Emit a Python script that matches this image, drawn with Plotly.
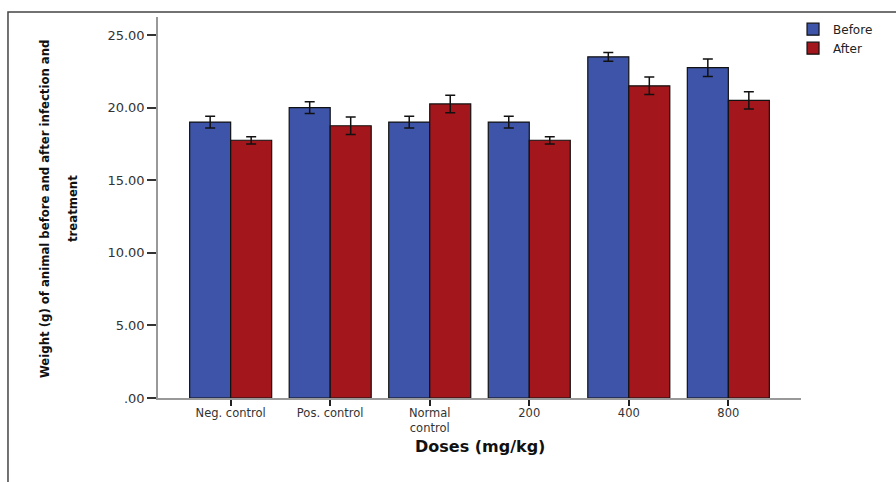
import plotly.graph_objects as go

categories = ["Neg. control", "Pos. control", "Normal<br>control", "200", "400", "800"]
before = [19.0, 20.0, 19.0, 19.0, 23.5, 22.75]
before_err = [0.4, 0.4, 0.4, 0.4, 0.3, 0.6]
after = [17.75, 18.75, 20.25, 17.75, 21.5, 20.5]
after_err = [0.25, 0.6, 0.6, 0.25, 0.6, 0.6]
yticks = [0, 5, 10, 15, 20, 25]
yticklabels = [".00", "5.00", "10.00", "15.00", "20.00", "25.00"]
ytitle_lines = ["Weight (g) of animal before and after infection and", "treatment"]
xtitle = "Doses (mg/kg)"

fig = go.Figure()
fig.add_trace(go.Bar(
    name="Before", x=categories, y=before,
    marker=dict(color="#3d54a8", line=dict(color="#111111", width=1.2)),
    error_y=dict(type="data", array=before_err, color="#111111", thickness=1.5, width=5),
))
fig.add_trace(go.Bar(
    name="After", x=categories, y=after,
    marker=dict(color="#a3161b", line=dict(color="#111111", width=1.2)),
    error_y=dict(type="data", array=after_err, color="#111111", thickness=1.5, width=5),
))

annotations = [
    dict(text="<b>%s</b>" % ytitle_lines[0], xref="paper", yref="paper", x=-0.1772, y=0.496,
         textangle=-90, showarrow=False, xanchor="center", yanchor="middle",
         font=dict(size=13, color="#111111", family="DejaVu Sans Condensed")),
    dict(text="<b>%s</b>" % ytitle_lines[1], xref="paper", yref="paper", x=-0.1337, y=0.496,
         textangle=-90, showarrow=False, xanchor="center", yanchor="middle",
         font=dict(size=13, color="#111111", family="DejaVu Sans Condensed")),
    dict(text="<b>%s</b>" % xtitle, xref="paper", yref="paper", x=0.5, y=-0.1286,
         showarrow=False, xanchor="center", yanchor="middle",
         font=dict(size=16, color="#111111", family="DejaVu Sans")),
]

fig.update_layout(
    width=896, height=482,
    margin=dict(l=158, r=95, t=17, b=84),
    paper_bgcolor="white", plot_bgcolor="white",
    barmode="group", bargap=0.176, bargroupgap=0,
    font=dict(family="DejaVu Sans", color="#333333", size=12),
    legend=dict(x=0.9876, y=1.006, xanchor="left", yanchor="top",
                font=dict(size=12, color="#222222"), tracegroupgap=0,
                bgcolor="rgba(0,0,0,0)"),
    xaxis=dict(
        type="category", range=[-0.73, 5.73],
        showline=True, linecolor="#999999", linewidth=1.5,
        ticks="outside", ticklen=6, tickcolor="#222222", tickwidth=1.5,
        tickfont=dict(size=11.5, color="#333333", family="DejaVu Sans"),
        ticklabelstandoff=-3,
        showgrid=False,
    ),
    yaxis=dict(
        range=[0, 26.24], tickvals=yticks, ticktext=yticklabels,
        showline=True, linecolor="#999999", linewidth=1.5,
        ticks="outside", ticklen=9, tickcolor="#333333", tickwidth=1.5,
        tickfont=dict(size=13, color="#333333", family="DejaVu Sans"),
        showgrid=False, zeroline=False,
    ),
    annotations=annotations,
    shapes=[dict(type="rect", xref="paper", yref="paper",
                 x0=-0.2333, x1=1.5, y0=-1.0, y1=1.0131,
                 line=dict(color="#444444", width=1.5), fillcolor="rgba(0,0,0,0)", layer="below")],
)

fig.write_html("out.html")
